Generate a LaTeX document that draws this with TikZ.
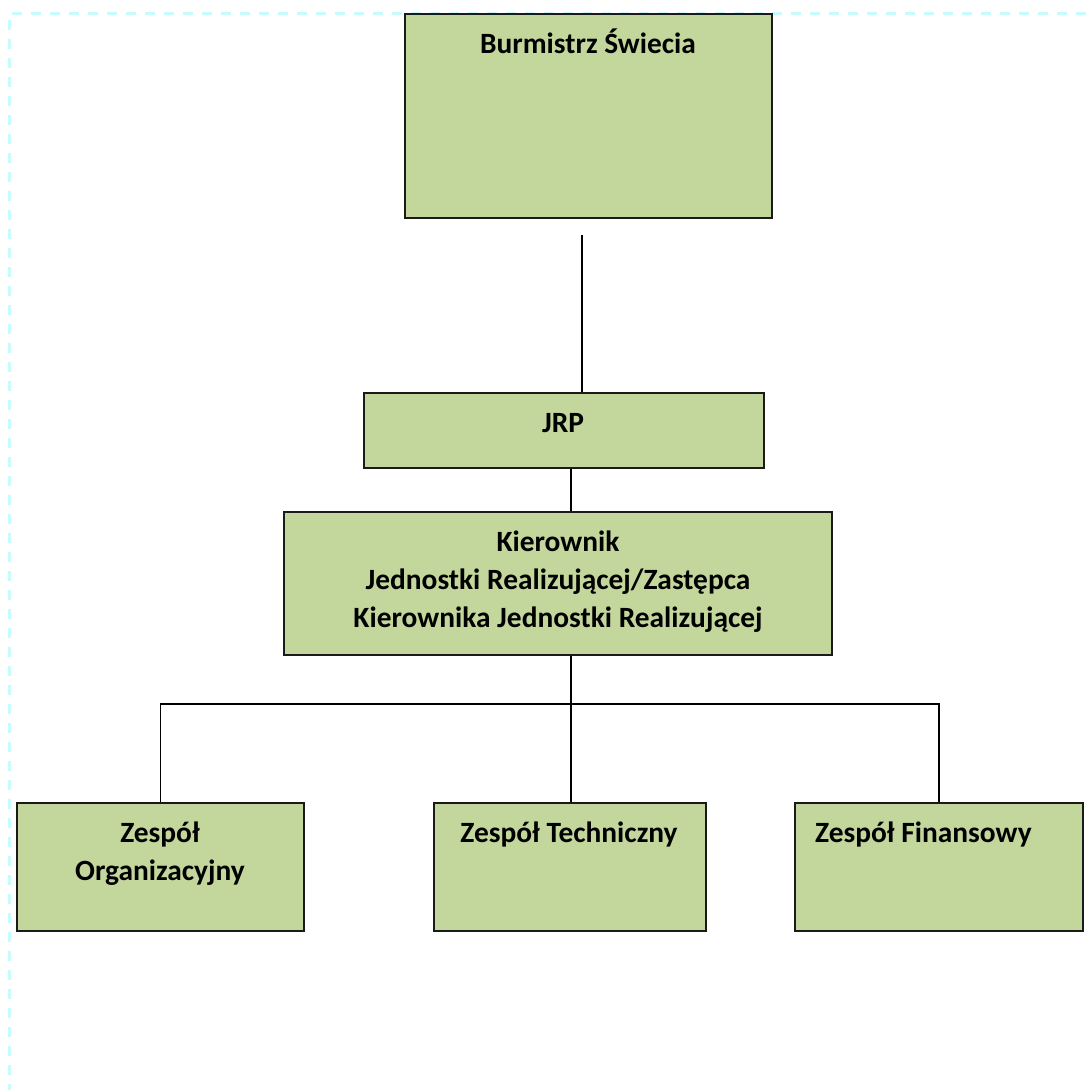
\documentclass[tikz,border=0pt]{standalone}
\usepackage{fontspec}
\setmainfont{Carlito}
\definecolor{boxgreen}{HTML}{C3D69B}
\definecolor{framecyan}{HTML}{C8FCFC}
\definecolor{edge}{HTML}{1A1A1A}
\begin{document}
\begin{tikzpicture}[x=1pt,y=-1pt,
  box/.style={draw=edge,line width=1.6pt,fill=boxgreen,rectangle,inner sep=0pt},
  lbl/.style={font=\bfseries\fontsize{29.4}{38}\selectfont,align=center,inner sep=0pt,anchor=base},
  conn/.style={draw=black,line width=1.6pt}]
\useasboundingbox (0,0) rectangle (1086,1090);
\draw[framecyan,line width=3pt,dash pattern=on 10pt off 9pt] (1086,13.5) -- (9,13.5) -- (9,1090);
% boxes
\node[box,minimum width=367pt,minimum height=204pt] (burm) at (588.5,116) {};
\node[box,minimum width=400pt,minimum height=75pt] (jrp) at (564,430.5) {};
\node[box,minimum width=548pt,minimum height=143pt] (kier) at (558,583.5) {};
\node[box,minimum width=287pt,minimum height=128pt] (org) at (160.5,867) {};
\node[box,minimum width=272pt,minimum height=128pt] (tech) at (570,867) {};
\node[box,minimum width=288pt,minimum height=128pt] (fin) at (939,867) {};
% texts (base anchor = baseline of the last line)
\node[lbl] (tburm) at (588,53) {Burmistrz Świecia};
\node[lbl] (tjrp) at (563,432) {JRP};
\node[lbl] (tkier) at (558,627) {Kierownik\\Jednostki Realizującej/Zastępca\\Kierownika Jednostki Realizującej};
\node[lbl] (torg) at (160,880) {Zespół\\Organizacyjny};
\node[lbl] (ttech) at (569,842) {Zespół Techniczny};
\node[lbl,anchor=base west] (tfin) at (815,842) {Zespół Finansowy};
% connectors
\coordinate (top) at (582,235);
\coordinate (bus) at (571,704);
\draw[conn] (top) -- (top |- jrp.north);
\draw[conn] (jrp.south -| bus) -- (kier.north -| bus);
\draw[conn] (kier.south -| bus) -- (bus);
\draw[conn] (org.north) |- (bus) -| (fin.north);
\draw[conn] (bus) -- (tech.north -| bus);
\end{tikzpicture}
\end{document}
